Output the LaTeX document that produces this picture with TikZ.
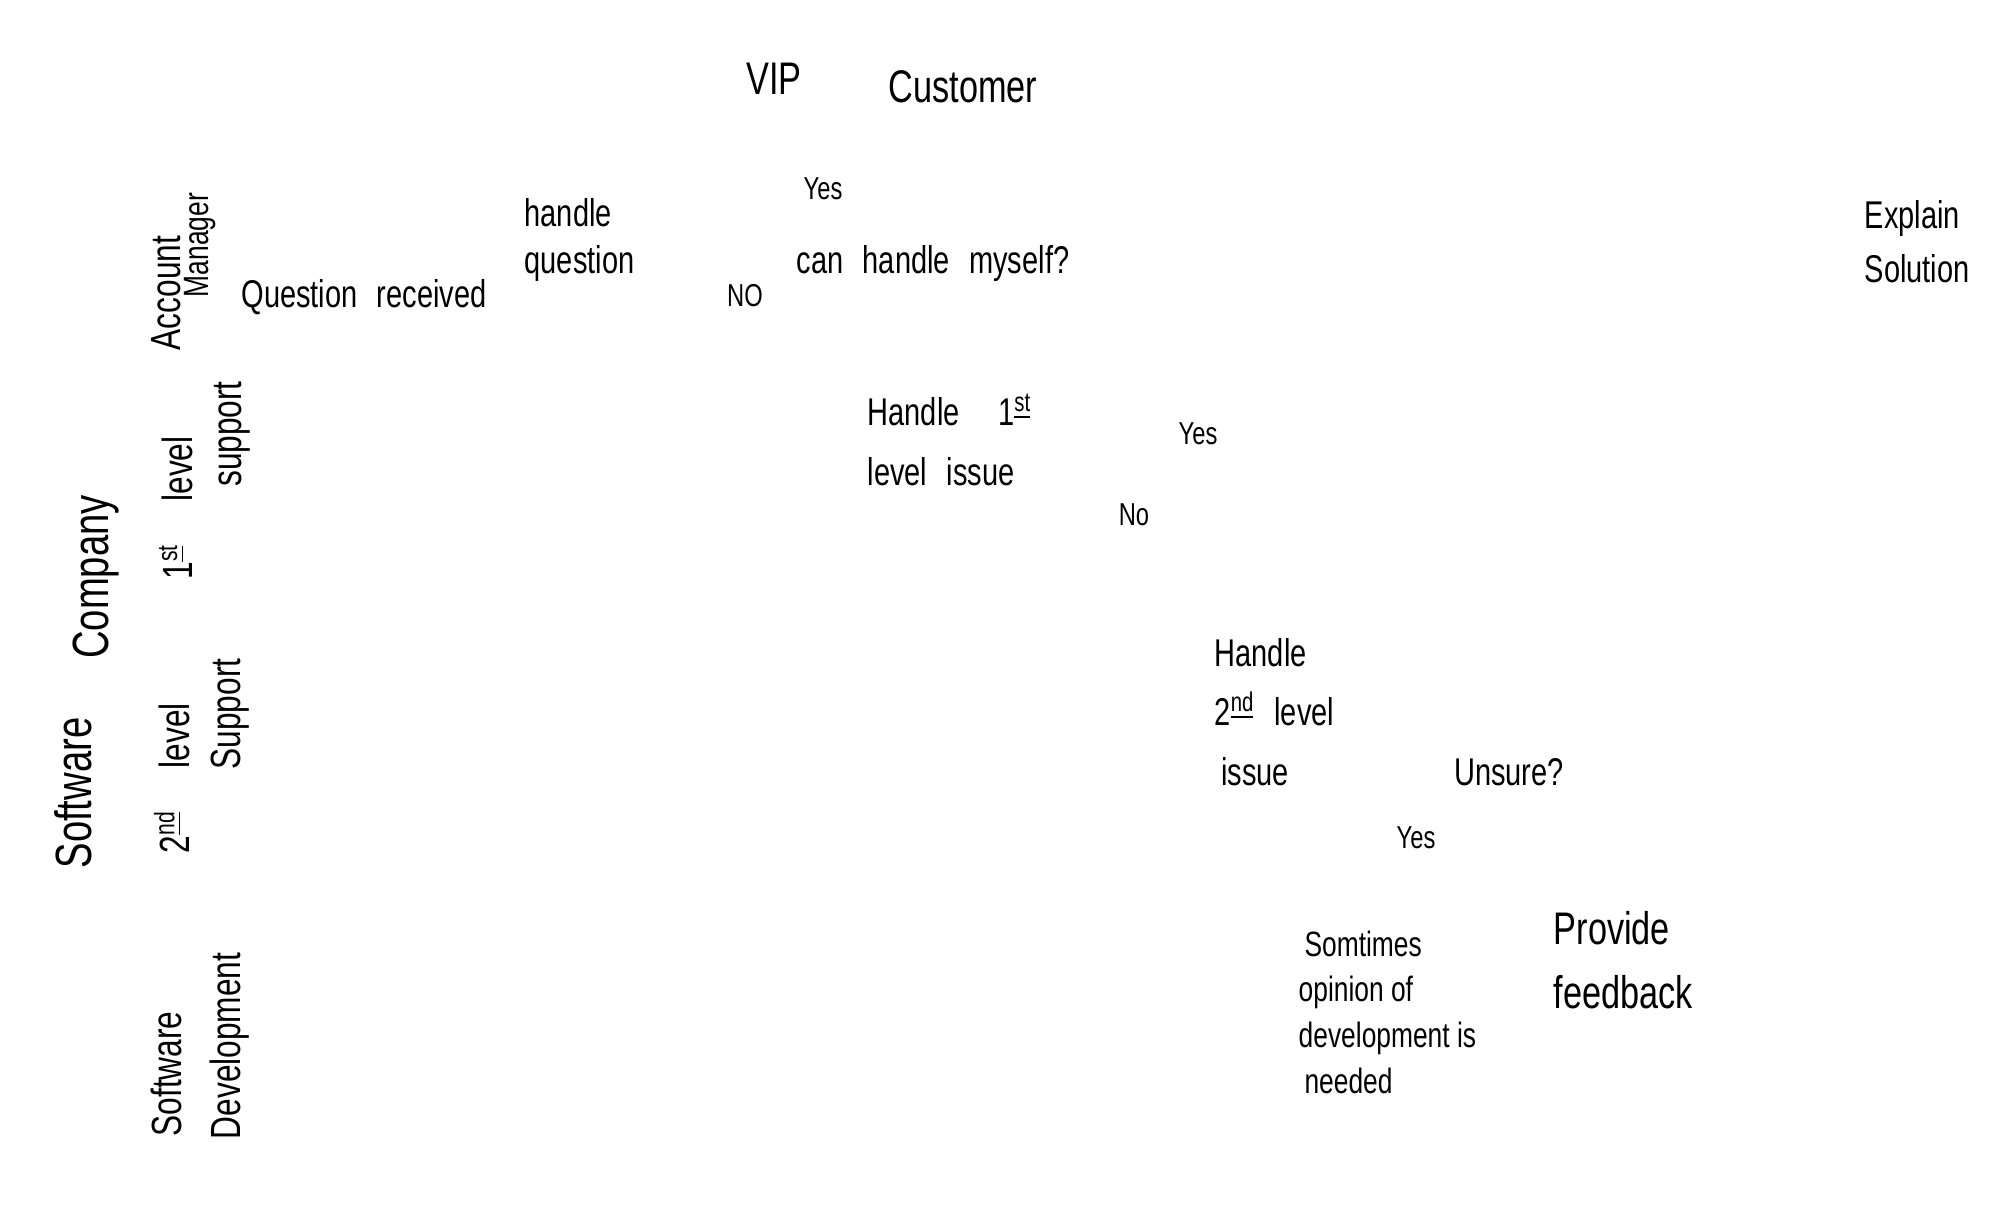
\documentclass[tikz,border=0pt]{standalone}
\usepackage{fontspec}
\setmainfont[FakeStretch=0.75]{Liberation Sans}
\begin{document}
\begin{tikzpicture}[x=0.01cm,y=-0.01cm,
  hw/.style={inner sep=0pt,font=\fontsize{11}{16}\selectfont},
  hwl/.style={hw,align=left,anchor=west},
  big/.style={inner sep=0pt,font=\fontsize{13}{18}\selectfont},
  lane/.style={inner sep=0pt,rotate=90,font=\fontsize{12}{14}\selectfont},
  biglane/.style={inner sep=0pt,rotate=90,font=\fontsize{14.5}{17}\selectfont}]
\useasboundingbox (0,0) rectangle (2000,1226);
% title
\node[big] (vip) at (774,79) {VIP};
\node[big] (cust) at (963,87) {Customer};
% lane labels
\node[biglane] (sw) at (73,793) {Software};
\node[biglane] (co) at (96,577) {Company};
\node[lane] (acc) at (166,293) {Account};
\node[lane,font=\fontsize{10}{12}\selectfont] (mgr) at (200,245) {Manager};
\node[lane] (l1) at (176,508) {1\textsuperscript{\underline{st}}\quad level};
\node[lane] (l1s) at (232,434) {support};
\node[lane] (l2) at (172,778) {2\textsuperscript{\underline{nd}}\quad level};
\node[lane] (l2s) at (230,714) {Support};
\node[lane] (sd1) at (166,1074) {Software};
\node[lane] (sd2) at (230,1046) {Development};
% account manager lane
\node[hw] (qr) at (364,297) {Question\enspace received};
\node[hwl,font=\fontsize{11}{13.4}\selectfont] (hq) at (524,240) {handle\\question};
\node[hw,font=\fontsize{9}{11}\selectfont] (yes1) at (823,189) {Yes};
\node[hw,font=\fontsize{9}{11}\selectfont] (no1) at (745,296) {NO};
\node[hwl] (chm) at (796,263) {can\enspace handle\enspace myself?};
\node[hwl,font=\fontsize{11}{15.4}\selectfont] (exp) at (1864,242) {Explain\\Solution};
% 1st level lane
\node[hwl,font=\fontsize{11}{17}\selectfont] (h1) at (867,440) {Handle\quad 1\textsuperscript{\underline{st}}\\level\enspace issue};
\node[hw,font=\fontsize{9}{11}\selectfont] (yes2) at (1198,434) {Yes};
\node[hw,font=\fontsize{9}{11}\selectfont] (no2) at (1134,515) {No};
% 2nd level lane
\node[hwl,font=\fontsize{11}{17}\selectfont] (h2) at (1214,712) {Handle\\2\textsuperscript{\underline{nd}}\enspace level\\\,issue};
\node[hw] (uns) at (1509,772) {Unsure?};
\node[hw,font=\fontsize{9}{11}\selectfont] (yes3) at (1416,838) {Yes};
% development lane
\node[hwl,font=\fontsize{10}{13}\selectfont] (som) at (1298,1012) {\,Somtimes\\opinion of\\development is\\\,needed};
\node[hwl,font=\fontsize{13}{18}\selectfont] (pf) at (1553,960) {Provide\\feedback};
\end{tikzpicture}
\end{document}
